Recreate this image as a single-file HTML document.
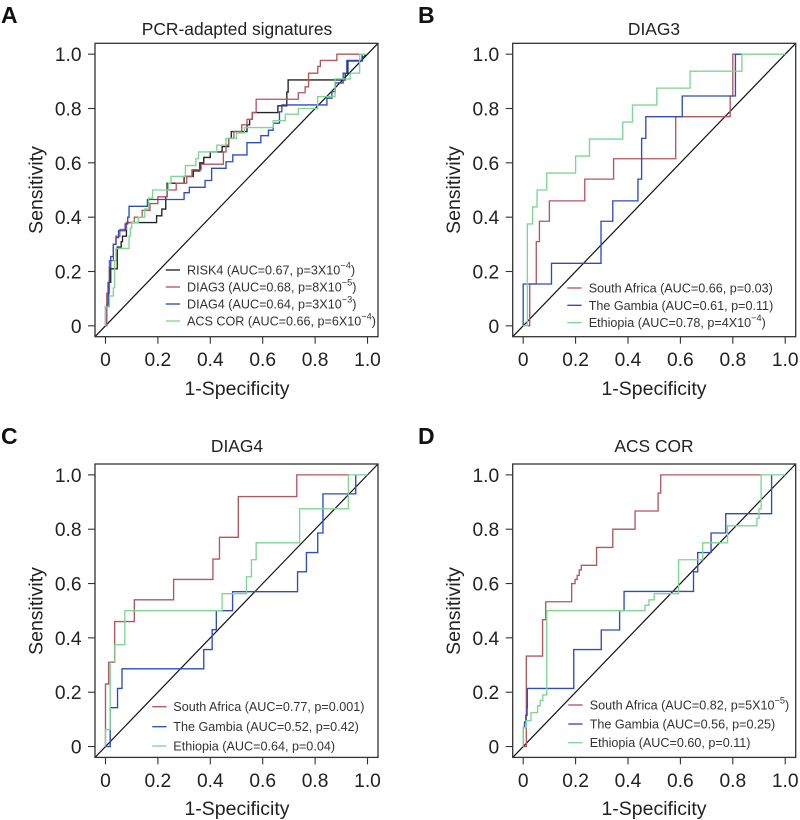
<!DOCTYPE html>
<html lang="en">
<head>
<meta charset="utf-8">
<title>ROC curves</title>
<style>
html,body{margin:0;padding:0;background:#fff;width:800px;height:820px;overflow:hidden}
svg{display:block;font-family:"Liberation Sans",Arial,sans-serif}
.panel-label{font-size:23px;font-weight:bold;fill:#111}
.title{font-size:17.4px;fill:#222;text-anchor:middle}
.axis-title{font-size:19.5px;fill:#222;text-anchor:middle}
.tick{font-size:19.2px;fill:#222}
.legend{font-size:12.6px;fill:#333}
.sup{font-size:9.2px}
</style>
</head>
<body>
<svg id="chart" xmlns="http://www.w3.org/2000/svg" width="800" height="820" viewBox="0 0 800 820">
  <rect width="800" height="820" fill="#fff"/>

  <text class="panel-label" x="1" y="23">A</text>
  <text class="panel-label" x="418" y="23">B</text>
  <text class="panel-label" x="1" y="444">C</text>
  <text class="panel-label" x="418" y="444">D</text>

  <text class="title" x="237" y="35">PCR-adapted signatures</text>
  <text class="title" x="654" y="35">DIAG3</text>
  <text class="title" x="237" y="452">DIAG4</text>
  <text class="title" x="654" y="452">ACS COR</text>

  <text class="axis-title" x="237" y="395">1-Specificity</text>
  <text class="axis-title" x="654" y="395">1-Specificity</text>
  <text class="axis-title" x="237" y="815">1-Specificity</text>
  <text class="axis-title" x="654" y="815">1-Specificity</text>

  <text class="axis-title" transform="translate(42.7 190) rotate(-90)">Sensitivity</text>
  <text class="axis-title" transform="translate(460 190) rotate(-90)">Sensitivity</text>
  <text class="axis-title" transform="translate(42.7 611) rotate(-90)">Sensitivity</text>
  <text class="axis-title" transform="translate(460 611) rotate(-90)">Sensitivity</text>

  <g id="marks"></g>

  <g>
    <text class="legend" x="187" y="274.5">RISK4 (AUC=0.67, p=3X10<tspan class="sup" dy="-6">−4</tspan><tspan dy="6">)</tspan></text>
    <text class="legend" x="187" y="291.5">DIAG3 (AUC=0.68, p=8X10<tspan class="sup" dy="-6">−5</tspan><tspan dy="6">)</tspan></text>
    <text class="legend" x="187" y="308.5">DIAG4 (AUC=0.64, p=3X10<tspan class="sup" dy="-6">−3</tspan><tspan dy="6">)</tspan></text>
    <text class="legend" x="187" y="325.5">ACS COR (AUC=0.66, p=6X10<tspan class="sup" dy="-6">−4</tspan><tspan dy="6">)</tspan></text>
  </g>
  <g>
    <text class="legend" x="588.7" y="292.5">South Africa (AUC=0.66, p=0.03)</text>
    <text class="legend" x="588.7" y="309.8">The Gambia (AUC=0.61, p=0.11)</text>
    <text class="legend" x="588.7" y="327.2">Ethiopia (AUC=0.78, p=4X10<tspan class="sup" dy="-6">−4</tspan><tspan dy="6">)</tspan></text>
  </g>
  <g>
    <text class="legend" x="173.3" y="711.2">South Africa (AUC=0.77, p=0.001)</text>
    <text class="legend" x="173.3" y="731.2">The Gambia (AUC=0.52, p=0.42)</text>
    <text class="legend" x="173.3" y="750.5">Ethiopia (AUC=0.64, p=0.04)</text>
  </g>
  <g>
    <text class="legend" x="589.7" y="709.5">South Africa (AUC=0.82, p=5X10<tspan class="sup" dy="-6">−5</tspan><tspan dy="6">)</tspan></text>
    <text class="legend" x="589.7" y="728.5">The Gambia (AUC=0.56, p=0.25)</text>
    <text class="legend" x="589.7" y="747.2">Ethiopia (AUC=0.60, p=0.11)</text>
  </g>
</svg>
<script>
// Axis tick values and labels
const tickValues = [0, 0.2, 0.4, 0.6, 0.8, 1.0];
const tickLabels = ['0', '0.2', '0.4', '0.6', '0.8', '1.0'];

// Panel A series: at each FPR the sensitivity steps up to the paired TPR
const aRiskFpr = [0, .005, .012, .02, .045, .06, .065, .08, .195, .215, .23, .235, .30, .335, .36, .375, .40, .445, .47, .48, .54, .55, .56, .658, .692, .697, .915, .925, .98, .99];
const aRiskTpr = [0, .08, .16, .21, .29, .31, .33, .38, .405, .43, .475, .525, .55, .57, .60, .62, .64, .66, .69, .715, .74, .76, .785, .81, .86, .905, .93, .975, .99, 1.0];
const aDiag3Fpr = [0, .005, .015, .03, .04, .055, .08, .11, .14, .17, .20, .235, .27, .31, .33, .365, .45, .46, .47, .49, .52, .54, .56, .575, .736, .762, .775, .81, .82, .883, .97];
const aDiag3Tpr = [0, .12, .24, .30, .33, .355, .38, .40, .425, .45, .475, .50, .525, .55, .575, .595, .64, .665, .69, .715, .74, .76, .785, .834, .858, .88, .93, .955, .977, 1.0, 1.0];
const aDiag4Fpr = [0, .01, .015, .02, .03, .04, .05, .075, .085, .09, .16, .20, .30, .32, .38, .405, .46, .486, .54, .593, .622, .64, .664, .673, .845, .864, .877, .907, .921, .979];
const aDiag4Tpr = [.07, .16, .215, .255, .30, .325, .35, .375, .40, .44, .465, .465, .49, .51, .535, .58, .604, .629, .674, .70, .72, .746, .788, .813, .838, .862, .894, .93, .977, 1.0];
const aAcsFpr = [0, .015, .03, .035, .04, .09, .095, .10, .125, .15, .165, .18, .24, .25, .305, .345, .355, .425, .46, .50, .53, .64, .686, .736, .81, .876, .934, .97, .995];
const aAcsTpr = [.07, .11, .14, .24, .285, .33, .36, .38, .40, .43, .47, .50, .525, .55, .59, .615, .64, .665, .69, .71, .73, .755, .779, .80, .844, .909, .93, 1.0, 1.0];

// Panel B series
const bSouthFpr = [0, .025, .05, .062, .10, .235, .345, .582, .79, .80, .82];
const bSouthTpr = [0, .154, .31, .385, .46, .54, .615, .77, .846, 1.0, 1.0];
const bGambiaFpr = [0, .108, .297, .342, .438, .452, .468, .607, .81, .835];
const bGambiaTpr = [.154, .23, .385, .46, .54, .69, .77, .846, 1.0, 1.0];
const bEthiopiaFpr = [0, .016, .036, .053, .09, .20, .253, .38, .417, .51, .637, .835, 1.0];
const bEthiopiaTpr = [0, .375, .4375, .5, .5625, .625, .6875, .75, .8125, .875, .9375, 1.0, 1.0];

// Panel C series
const cSouthFpr = [0, .012, .035, .11, .26, .41, .435, .507, .73, .93];
const cSouthTpr = [.23, .31, .46, .54, .615, .69, .77, .92, 1.0, 1.0];
const cGambiaFpr = [0, .018, .046, .063, .375, .407, .423, .485, .733, .767, .81, .83, .955];
const cGambiaTpr = [0, .143, .214, .286, .357, .43, .5, .57, .643, .714, .786, .93, 1.0];
const cEthiopiaFpr = [0, .018, .036, .074, .445, .538, .557, .575, .741, .927, 1.0];
const cEthiopiaTpr = [.0625, .3125, .375, .5, .5625, .625, .6875, .75, .875, 1.0, 1.0];

// Panel D series
const dSouthFpr = [0, .012, .074, .086, .185, .198, .206, .214, .222, .28, .342, .427, .515, .525, .91];
const dSouthTpr = [0, .333, .467, .533, .6, .615, .63, .65, .667, .733, .8, .867, .933, 1.0, 1.0];
const dGambiaFpr = [0, .005, .01, .015, .016, .193, .298, .368, .385, .65, .666, .717, .773, .948];
const dGambiaTpr = [.07, .09, .115, .143, .214, .357, .429, .5, .571, .643, .714, .786, .857, 1.0];
const dEthiopiaFpr = [0, .012, .03, .055, .065, .075, .09, .465, .48, .50, .593, .685, .78, .892, .90, .908, 1.0];
const dEthiopiaTpr = [.07, .095, .125, .15, .17, .19, .5, .52, .54, .5625, .6875, .75, .8125, .84, .875, 1.0, 1.0];

const RED = '#b5565f';
const BLUE = '#2b4cc4';
const GREEN = '#7ed692';
const BLACK = '#222222';

// Layout of each panel
const panels = [
  { key: 'a', left: 95, top: 43.3, legendX: 165.7, legendY: [270, 287, 304, 321], series: [
    { name: 'risk4', color: BLACK, fpr: aRiskFpr, tpr: aRiskTpr },
    { name: 'diag3', color: RED, fpr: aDiag3Fpr, tpr: aDiag3Tpr },
    { name: 'diag4', color: BLUE, fpr: aDiag4Fpr, tpr: aDiag4Tpr },
    { name: 'acs-cor', color: GREEN, fpr: aAcsFpr, tpr: aAcsTpr }
  ]},
  { key: 'b', left: 512.7, top: 43.3, legendX: 567.3, legendY: [288, 305.3, 322.7], series: [
    { name: 'south-africa', color: RED, fpr: bSouthFpr, tpr: bSouthTpr },
    { name: 'gambia', color: BLUE, fpr: bGambiaFpr, tpr: bGambiaTpr },
    { name: 'ethiopia', color: GREEN, fpr: bEthiopiaFpr, tpr: bEthiopiaTpr }
  ]},
  { key: 'c', left: 95, top: 464, legendX: 152.3, legendY: [706.7, 726.7, 746], series: [
    { name: 'south-africa', color: RED, fpr: cSouthFpr, tpr: cSouthTpr },
    { name: 'gambia', color: BLUE, fpr: cGambiaFpr, tpr: cGambiaTpr },
    { name: 'ethiopia', color: GREEN, fpr: cEthiopiaFpr, tpr: cEthiopiaTpr }
  ]},
  { key: 'd', left: 512.7, top: 464, legendX: 568.3, legendY: [705, 724, 742.7], series: [
    { name: 'south-africa', color: RED, fpr: dSouthFpr, tpr: dSouthTpr },
    { name: 'gambia', color: BLUE, fpr: dGambiaFpr, tpr: dGambiaTpr },
    { name: 'ethiopia', color: GREEN, fpr: dEthiopiaFpr, tpr: dEthiopiaTpr }
  ]}
];

const NS = 'http://www.w3.org/2000/svg';
const root = document.getElementById('marks');
const PLOT_W = 283;
const PLOT_H = 293.4;
const DOMAIN_MIN = -0.04;
const DOMAIN_MAX = 1.04;

function make(tag, attrs, parent) {
  const el = document.createElementNS(NS, tag);
  Object.keys(attrs).forEach(function (k) { el.setAttribute(k, attrs[k]); });
  parent.appendChild(el);
  return el;
}

panels.forEach(function (p) {
  const xScale = function (v) { return p.left + (v - DOMAIN_MIN) / (DOMAIN_MAX - DOMAIN_MIN) * PLOT_W; };
  const yScale = function (v) { return p.top + PLOT_H - (v - DOMAIN_MIN) / (DOMAIN_MAX - DOMAIN_MIN) * PLOT_H; };

  const g = make('g', {}, root);
  
  

  const diag = make('line', { x1: xScale(DOMAIN_MIN), y1: yScale(DOMAIN_MIN), x2: xScale(DOMAIN_MAX), y2: yScale(DOMAIN_MAX), stroke: '#111', 'stroke-width': 1.2 }, g);
  
  

  p.series.forEach(function (s, i) {
    let d = 'M' + xScale(0).toFixed(2) + ' ' + yScale(0).toFixed(2);
    s.fpr.forEach(function (x, j) {
      d += 'H' + xScale(x).toFixed(2) + 'V' + yScale(s.tpr[j]).toFixed(2);
    });
    const path = make('path', { d: d, fill: 'none', stroke: s.color, 'stroke-width': 1.35 }, g);
    
    

    const key = make('line', { x1: p.legendX, x2: p.legendX + 14.3, y1: p.legendY[i], y2: p.legendY[i], stroke: s.color, 'stroke-width': 1.35 }, g);
    
    
  });

  const frame = make('rect', { x: p.left, y: p.top, width: PLOT_W, height: PLOT_H, fill: 'none', stroke: '#333', 'stroke-width': 1.3 }, g);
  
  

  tickValues.forEach(function (v, i) {
    const xt = make('line', { x1: xScale(v), x2: xScale(v), y1: p.top + PLOT_H, y2: p.top + PLOT_H + 7, stroke: '#333', 'stroke-width': 1.1 }, g);
    
    

    const yt = make('line', { x1: p.left - 7, x2: p.left, y1: yScale(v), y2: yScale(v), stroke: '#333', 'stroke-width': 1.1 }, g);
    
    

    const xl = make('text', { x: xScale(v), y: p.top + PLOT_H + 29.5, 'class': 'tick', 'text-anchor': 'middle' }, g);
    xl.textContent = tickLabels[i];
    
    

    const yl = make('text', { x: p.left - 13.5, y: yScale(v) + 7, 'class': 'tick', 'text-anchor': 'end' }, g);
    yl.textContent = tickLabels[i];
    
    
  });
});
</script>
</body>
</html>
